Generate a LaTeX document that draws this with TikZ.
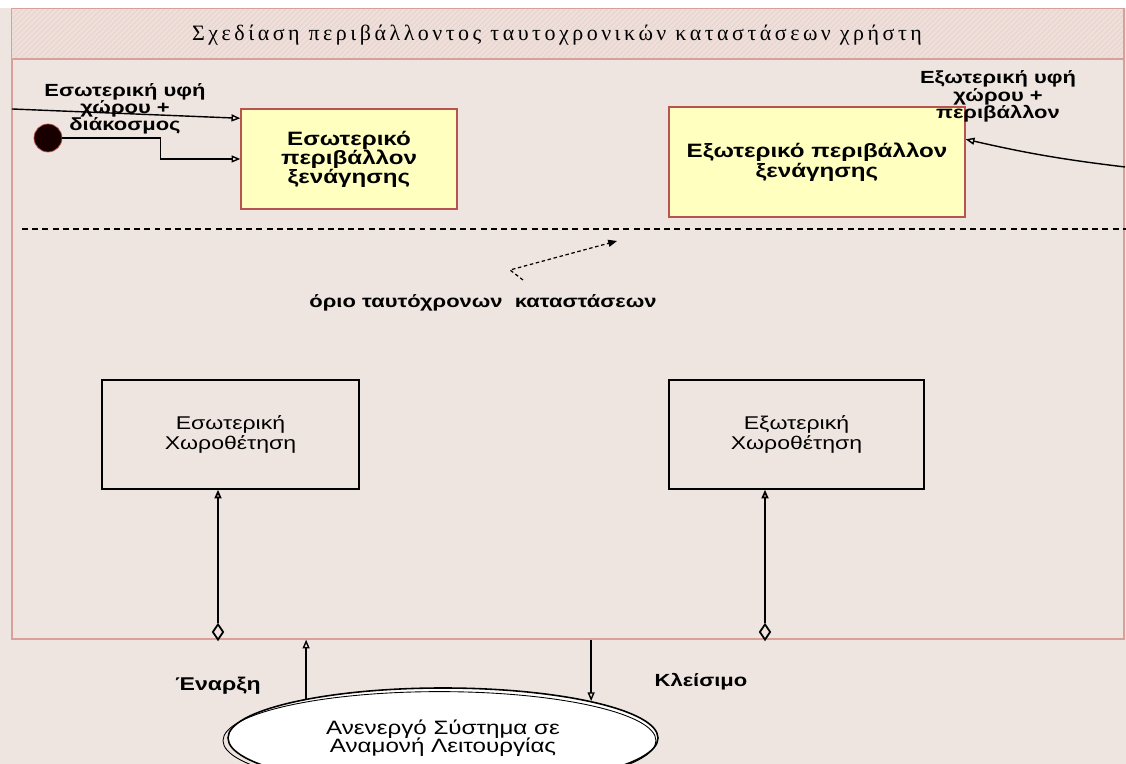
\documentclass[tikz,border=0pt]{standalone}
\usepackage{fontspec}
\setmainfont[FakeStretch=1.25]{Liberation Sans}
\newfontfamily\titlefont[LetterSpace=16]{Liberation Serif}
\usetikzlibrary{positioning,shapes.geometric,arrows.meta,patterns}

\definecolor{bgcol}{HTML}{EFE5E0}
\definecolor{framered}{HTML}{D9A09A}
\definecolor{headfill}{HTML}{EFDFDA}
\definecolor{hatchcol}{HTML}{E6D2CD}
\definecolor{tourfill}{HTML}{FFFFC0}
\definecolor{tourred}{HTML}{B85450}

\newcommand\tightlines{\lineskiplimit=-20pt\lineskip=0pt}

\tikzset{
  tour/.style={draw=tourred,fill=tourfill,line width=0.8pt,align=center,
    font=\bfseries\fontsize{11}{10.8}\selectfont\tightlines},
  place/.style={draw=black,line width=0.8pt,align=center,
    minimum width=5.14cm,minimum height=2.18cm,font=\fontsize{10.5}{11.3}\selectfont\tightlines},
  lbl/.style={align=center,font=\bfseries\fontsize{10}{9.8}\selectfont\tightlines},
  gate/.style={diamond,draw=black,fill=bgcol,line width=1pt,inner sep=0pt,
    minimum width=0.22cm,minimum height=0.32cm},
  link/.style={line width=0.8pt,-{Triangle[open,length=5pt,width=4pt]}}
}

\begin{document}
\begin{tikzpicture}
\fill[bgcol] (0,0) rectangle (22.52,15.28);
\fill[white] (0,15.12) rectangle (22.52,15.28);
\useasboundingbox (0,0) rectangle (22.52,15.28);

% frame and header
\node[draw=framered,line width=0.8pt,minimum width=22.24cm,minimum height=12.6cm,inner sep=0pt] (frame) at (11.36,8.80) {};
\fill[headfill] (frame.north west) rectangle (22.48,14.10);
\fill[pattern=north east lines,pattern color=hatchcol] (frame.north west) rectangle (22.48,14.10);
\draw[framered,line width=0.8pt] (frame.north west) rectangle (22.48,14.10);
\node[font=\titlefont\fontsize{12.5}{14}\selectfont] (title) at (11.14,14.58) {Σχεδίαση περιβάλλοντος ταυτοχρονικών καταστάσεων χρήστη};

% upper states
\node[tour,minimum width=4.32cm,minimum height=2.0cm] (b1) at (6.98,12.10) {Εσωτερικό\\περιβάλλον\\ξενάγησης};
\node[tour,minimum width=5.92cm,minimum height=2.2cm,font=\bfseries\fontsize{11}{11.3}\selectfont\tightlines] (b2) at (16.34,12.04) {Εξωτερικό περιβάλλον\\ξενάγησης};
\node[circle,draw=tourred,fill=black!90!red,minimum size=0.56cm,inner sep=0pt] (dot) at (0.96,12.52) {};
\node[lbl] (inlbl) at (2.50,13.10) {Εσωτερική υφή\\χώρου +\\διάκοσμος};
\node[lbl] (outlbl) at (19.96,13.35) {Εξωτερική υφή\\χώρου +\\περιβάλλον};
\coordinate (inlet) at (0.24,13.10);
\coordinate (outlet) at (22.50,11.94);
\draw[link] (inlet) -- ([yshift=-0.2cm]b1.north west);
\draw[link] (dot.east) -- ++(1.96,0) |- (b1.west);
\draw[link] (outlet) to[bend left=3] ([yshift=-0.66cm]b2.north east);

% boundary
\draw[line width=1.3pt,dash pattern=on 3.4pt off 2.4pt] (0.44,10.70) -- (22.52,10.70);
\node[lbl,font=\bfseries\fontsize{10}{12}\selectfont] (bound) at (9.66,9.22) {όριο ταυτόχρονων\ \ καταστάσεων};
\coordinate (hk) at (10.46,9.68);
\coordinate (hc) at (10.20,9.88);
\coordinate (hh) at (12.34,10.46);
\draw[line width=0.7pt,dash pattern=on 2pt off 1.5pt,-{Triangle[length=5pt,width=4pt]}] (hk) -- (hc) -- (hh);

% lower states
\node[place] (b3) at (4.61,6.59) {Εσωτερική\\Χωροθέτηση};
\node[place,minimum width=5.10cm] (b4) at (15.93,6.59) {Εξωτερική\\Χωροθέτηση};
\node[gate] (d1) at (4.36,2.64) {};
\node[gate] (d2) at (15.30,2.64) {};
\draw[link,line width=1pt] (d1.north) -- (d1 |- b3.south);
\draw[link,line width=1pt] (d2.north) -- (d2 |- b4.south);

% idle state
\node[ellipse,draw=black,fill=white,line width=0.9pt,minimum width=8.6cm,minimum height=2.0cm,
  font=\fontsize{11}{10.2}\selectfont\tightlines,align=center] (ell) at (8.86,0.52) {Ανενεργό Σύστημα σε\\Αναμονή Λειτουργίας};
\draw[line width=0.5pt] ([xshift=-2pt,yshift=-1.5pt]ell.center) ellipse (4.33cm and 0.98cm);
\draw[link] (ell.164) -- (ell.164 |- frame.south);
\draw[link] (ell.14 |- frame.south) -- (ell.14);
\node[lbl,font=\bfseries\fontsize{10.5}{12}\selectfont] (start) at (4.36,1.56) {Έναρξη};
\node[lbl,font=\bfseries\fontsize{10}{12}\selectfont] (stop) at (14.02,1.64) {Κλείσιμο};
\end{tikzpicture}
\end{document}
